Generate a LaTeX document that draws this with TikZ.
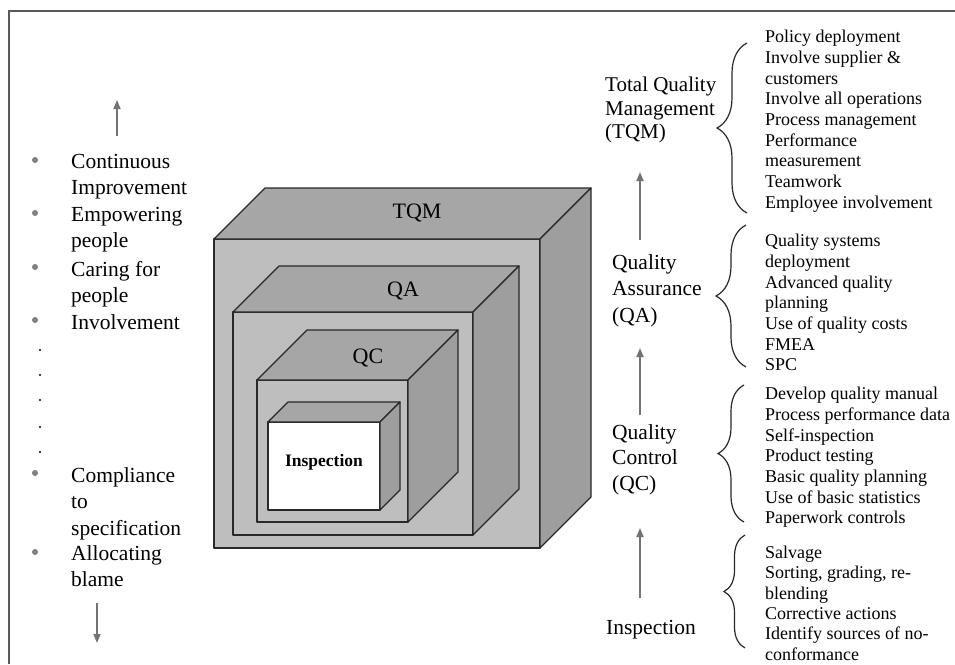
\documentclass[tikz,border=0pt]{standalone}
\usepackage{fontspec}
\setmainfont{Liberation Serif}
\usetikzlibrary{arrows.meta,decorations.pathreplacing}

\definecolor{facefront}{RGB}{190,190,190}
\definecolor{facetop}{RGB}{166,166,166}
\definecolor{faceside}{RGB}{158,158,158}
\definecolor{edgegray}{RGB}{40,40,40}
\definecolor{arrowgray}{RGB}{115,115,115}

\tikzset{
  cubeedge/.style={draw=edgegray, line width=1.2pt, line join=round},
  uparrow/.style={arrowgray, line width=1.8pt, -{Triangle[width=7pt,length=9pt]}},
  bigtext/.style={font=\fontsize{21.5}{26.5}\selectfont, align=left, anchor=north west, inner sep=0pt},
  listtext/.style={font=\fontsize{18}{20.7}\selectfont, align=left, anchor=north west, inner sep=0pt},
  brc/.style={decorate, decoration={brace, amplitude=#1}, line width=1.2pt, edgegray},
}

% box with front face, top face and right face
\newcommand{\qcube}[6]{%
  \filldraw[cubeedge, fill=#6] (#1,#2) rectangle (#3,#4);
  \filldraw[cubeedge, fill=facetop] (#1,#2) -- (#1+#5,#2-#5) -- (#3+#5,#2-#5) -- (#3,#2) -- cycle;
  \filldraw[cubeedge, fill=faceside] (#3,#2) -- (#3+#5,#2-#5) -- (#3+#5,#4-#5) -- (#3,#4) -- cycle;
}

\begin{document}
\begin{tikzpicture}[x=1pt,y=-1pt]
\useasboundingbox (0,0) rectangle (955,664);

\draw[line width=1.5pt, gray!70!black] (9,664) -- (9,11) -- (955,11);

% nested boxes
\qcube{214}{239}{540}{548}{51}{facefront}
\qcube{233}{312}{473}{535}{46}{facefront}
\qcube{257}{380}{408}{522}{50}{facefront}
\qcube{268}{422}{380}{510}{20}{white}

\node[font=\fontsize{22}{26}\selectfont] (tqmbox) at (417,213) {TQM};
\node[font=\fontsize{22}{26}\selectfont] (qabox) at (403,291) {QA};
\node[font=\fontsize{22}{26}\selectfont] (qcbox) at (368,358) {QC};
\node[font=\fontsize{17.5}{20}\selectfont\bfseries] (inspbox) at (324,462) {Inspection};

% left column
\coordinate (lup0) at (117,136);
\coordinate (lup1) at (117,100);
\draw[uparrow] (lup0) -- (lup1);
\coordinate (ldn0) at (97,603);
\coordinate (ldn1) at (97,643);
\draw[uparrow] (ldn0) -- (ldn1);

\foreach \yy in {160,213,267,320,473,552}
  \fill[gray] (35,\yy) circle (3);
\foreach \yy in {350,375,400,427,452}
  \fill[black] (40,\yy) circle (1.1);

\node[bigtext] (cont) at (71,154) {Continuous\\Improvement};
\node[bigtext] (empw) at (71,207) {Empowering\\people};
\node[bigtext] (care) at (71,261) {Caring for\\people};
\node[bigtext] (invl) at (71,314) {Involvement};
\node[bigtext] (comp) at (71,467) {Compliance\\to\\specification};
\node[bigtext] (blame) at (71,545) {Allocating\\blame};

% middle column
\node[bigtext, font=\fontsize{21}{23.5}\selectfont] (tqmlab) at (605,77) {Total Quality\\Management\\(TQM)};
\node[bigtext] (qalab) at (612,254) {Quality\\Assurance\\(QA)};
\node[bigtext, font=\fontsize{21.5}{25.5}\selectfont] (qclab) at (612,424) {Quality\\Control\\(QC)};
\node[bigtext] (insplab) at (606,620) {Inspection};

\coordinate (mup0) at (640,240);
\coordinate (mup1) at (640,172);
\draw[uparrow] (mup0) -- (mup1);
\coordinate (mup2) at (640,415);
\coordinate (mup3) at (640,348);
\draw[uparrow] (mup2) -- (mup3);
\coordinate (mup4) at (640,598);
\coordinate (mup5) at (640,528);
\draw[uparrow] (mup4) -- (mup5);

% braces
\draw[brc=30] (747,213) -- (747,43);
\draw[brc=30] (746,367) -- (746,225);
\draw[brc=26] (744,522) -- (744,385);
\draw[brc=21] (745,648) -- (745,535);

% right column
\node[listtext] (tqmlist) at (765,30) {Policy deployment\\Involve supplier \&\\customers\\Involve all operations\\Process management\\Performance\\measurement\\Teamwork\\Employee involvement};
\node[listtext] (qalist) at (765,234) {Quality systems\\deployment\\Advanced quality\\planning\\Use of quality costs\\FMEA\\SPC};
\node[listtext] (qclist) at (765,387) {Develop quality manual\\Process performance data\\Self-inspection\\Product testing\\Basic quality planning\\Use of basic statistics\\Paperwork controls};
\node[listtext, font=\fontsize{18}{20.3}\selectfont] (insplist) at (765,546) {Salvage\\Sorting, grading, re-\\blending\\Corrective actions\\Identify sources of no-\\conformance};
\end{tikzpicture}
\end{document}
